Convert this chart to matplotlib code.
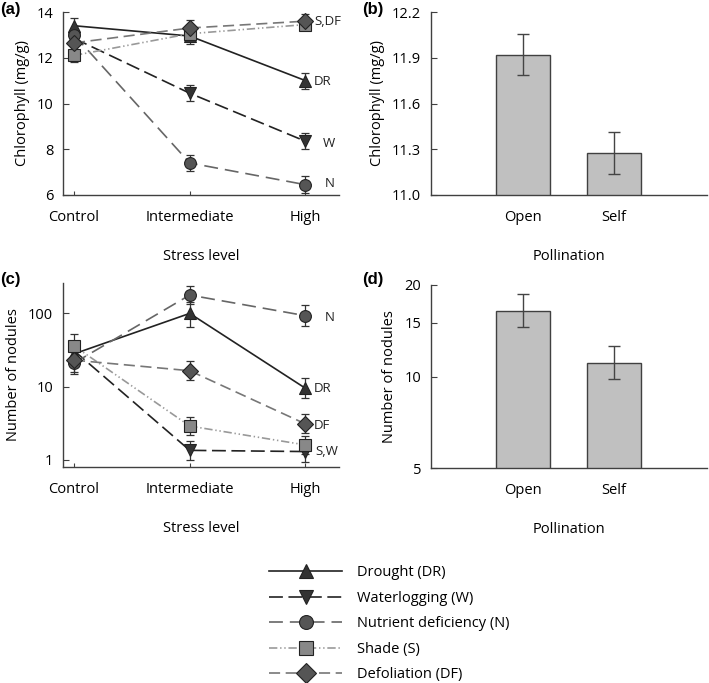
import matplotlib
matplotlib.use("Agg")
import matplotlib.pyplot as plt
from matplotlib.lines import Line2D
import numpy as np

plt.rcParams['font.family'] = ['Open Sans', 'DejaVu Sans']
plt.rcParams['lines.scale_dashes'] = False

# categories
levels = ["Control", "Intermediate", "High"]
pollination = ["Open", "Self"]

# (a) chlorophyll vs stress level (mg/g)
chl_dr = [13.4, 12.95, 11.0]
chl_dr_err = [0.35, 0.35, 0.35]
chl_w = [12.85, 10.45, 8.35]
chl_w_err = [0.3, 0.35, 0.35]
chl_n = [13.0, 7.4, 6.45]
chl_n_err = [0.3, 0.35, 0.38]
chl_s = [12.1, 13.05, 13.45]
chl_s_err = [0.3, 0.3, 0.25]
chl_df = [12.65, 13.3, 13.6]
chl_df_err = [0.3, 0.35, 0.3]

# (b) chlorophyll vs pollination
chl_poll = [11.92, 11.275]
chl_poll_err = [0.135, 0.135]

# (c) number of nodules vs stress level (value, lower, upper)
nod_dr = [28, 100, 9.5]
nod_dr_lo = [20, 66, 6.9]
nod_dr_hi = [40, 144, 13]
nod_w = [31, 1.35, 1.3]
nod_w_lo = [22, 1.0, 0.95]
nod_w_hi = [42, 1.8, 1.75]
nod_n = [21, 178, 93]
nod_n_lo = [15, 135, 67]
nod_n_hi = [30, 240, 130]
nod_s = [36, 2.9, 1.6]
nod_s_lo = [25, 2.2, 1.2]
nod_s_hi = [52, 3.9, 2.1]
nod_df = [23, 16.5, 3.1]
nod_df_lo = [16, 12.3, 2.3]
nod_df_hi = [32, 22.5, 4.2]

# (d) number of nodules vs pollination
nod_poll = [16.4, 11.1]
nod_poll_lo = [14.5, 9.8]
nod_poll_hi = [18.7, 12.6]

# series styles: label, line colour, dashes, marker, marker colour
styles = {
    "DR": ("Drought (DR)", "#222222", None, "^", "#333333"),
    "W": ("Waterlogging (W)", "#222222", (10, 4), "v", "#333333"),
    "N": ("Nutrient deficiency (N)", "#666666", (10, 5), "o", "#555555"),
    "S": ("Shade (S)", "#999999", (6, 2, 1, 2, 1, 2), "s", "#888888"),
    "DF": ("Defoliation (DF)", "#777777", (8, 4), "D", "#555555"),
}
order = ["DR", "W", "N", "S", "DF"]

fs = 10.5
spine_c = "#404040"


def style_axes(ax):
    for s in ["top", "right"]:
        ax.spines[s].set_visible(False)
    for s in ["left", "bottom"]:
        ax.spines[s].set_color(spine_c)
        ax.spines[s].set_linewidth(1.0)
    ax.tick_params(axis="y", direction="in", length=4, color=spine_c, labelsize=fs, pad=7)
    ax.tick_params(axis="x", direction="in", length=3, color=spine_c, labelsize=fs, pad=11)
    ax.minorticks_off()


def draw_series(ax, key, x, y, yerr):
    label, lc, dashes, mk, mc = styles[key]
    ax.errorbar(x, y, yerr=yerr, fmt="none", ecolor="#333333", elinewidth=0.9,
                capsize=3, capthick=0.9, zorder=2)
    line, = ax.plot(x, y, color=lc, lw=1.2, marker=mk, markersize=8.5,
                    markerfacecolor=mc, markeredgecolor="#222222", markeredgewidth=0.8,
                    label=label, zorder=3)
    if dashes is not None:
        line.set_dashes(dashes)
    return line


fig = plt.figure(figsize=(7.09, 6.83), dpi=100)
W, H = 709.0, 683.0


def add_ax(left, top, right, bottom):
    return fig.add_axes([left / W, 1 - bottom / H, (right - left) / W, (bottom - top) / H])


x = np.arange(len(levels))

# ----- (a)
ax_a = add_ax(63, 12, 339, 195)
draw_series(ax_a, "DR", x, chl_dr, chl_dr_err)
draw_series(ax_a, "W", x, chl_w, chl_w_err)
draw_series(ax_a, "N", x, chl_n, chl_n_err)
draw_series(ax_a, "S", x, chl_s, chl_s_err)
draw_series(ax_a, "DF", x, chl_df, chl_df_err)
ax_a.set_xlim(-0.095, 2.29)
ax_a.set_ylim(6, 14)
ax_a.set_yticks([6, 8, 10, 12, 14])
ax_a.set_xticks(x)
ax_a.set_xticklabels(levels)
ax_a.set_ylabel("Chlorophyll (mg/g)", fontsize=fs, labelpad=5)
ax_a.set_xlabel("Stress level", fontsize=fs, labelpad=17)
style_axes(ax_a)
for txt, yv, xv in [("S,DF", 13.6, 2.08), ("DR", 10.95, 2.07), ("W", 8.27, 2.15), ("N", 6.5, 2.17)]:
    ax_a.text(xv, yv, txt, fontsize=fs - 1, va="center", ha="left", color="#222222")

# ----- (b)
xp = np.arange(len(pollination))
ax_b = add_ax(431, 12, 707, 195)
ax_b.bar(xp, chl_poll, width=0.6, color="#c0c0c0", edgecolor=spine_c, linewidth=1.0,
         yerr=chl_poll_err, error_kw=dict(ecolor="#444444", elinewidth=1.0, capsize=4, capthick=1.0))
ax_b.set_xlim(-1.01, 2.02)
ax_b.set_ylim(11.0, 12.2)
ax_b.set_yticks([11.0, 11.3, 11.6, 11.9, 12.2])
ax_b.set_yticklabels(["11.0", "11.3", "11.6", "11.9", "12.2"])
ax_b.set_xticks(xp)
ax_b.set_xticklabels(pollination)
ax_b.set_ylabel("Chlorophyll (mg/g)", fontsize=fs, labelpad=5)
ax_b.set_xlabel("Pollination", fontsize=fs, labelpad=17)
style_axes(ax_b)
ax_b.tick_params(axis="x", length=0)

# ----- (c)
ax_c = add_ax(63, 283, 339, 467)
ax_c.set_yscale("log")
for key, y, lo, hi in [("DR", nod_dr, nod_dr_lo, nod_dr_hi),
                       ("W", nod_w, nod_w_lo, nod_w_hi),
                       ("N", nod_n, nod_n_lo, nod_n_hi),
                       ("S", nod_s, nod_s_lo, nod_s_hi),
                       ("DF", nod_df, nod_df_lo, nod_df_hi)]:
    y = np.array(y)
    err = [y - np.array(lo), np.array(hi) - y]
    draw_series(ax_c, key, x, y, err)
ax_c.set_xlim(-0.095, 2.29)
ax_c.set_ylim(0.8, 260)
ax_c.set_yticks([1, 10, 100])
ax_c.set_yticklabels(["1", "10", "100"])
ax_c.set_xticks(x)
ax_c.set_xticklabels(levels)
ax_c.set_ylabel("Number of nodules", fontsize=fs, labelpad=5)
ax_c.set_xlabel("Stress level", fontsize=fs, labelpad=17)
style_axes(ax_c)
for txt, yv, xv in [("N", 89, 2.17), ("DR", 9.5, 2.07), ("DF", 2.95, 2.07), ("S,W", 1.3, 2.09)]:
    ax_c.text(xv, yv, txt, fontsize=fs - 1, va="center", ha="left", color="#222222")

# ----- (d)
ax_d = add_ax(431, 285, 707, 468)
ax_d.set_yscale("log")
yd = np.array(nod_poll)
ax_d.bar(xp, yd, width=0.6, color="#c0c0c0", edgecolor=spine_c, linewidth=1.0,
         yerr=[yd - np.array(nod_poll_lo), np.array(nod_poll_hi) - yd],
         error_kw=dict(ecolor="#444444", elinewidth=1.0, capsize=4, capthick=1.0))
ax_d.set_xlim(-1.01, 2.02)
ax_d.set_ylim(5, 20)
ax_d.set_yticks([5, 10, 15, 20])
ax_d.set_yticklabels(["5", "10", "15", "20"])
ax_d.set_xticks(xp)
ax_d.set_xticklabels(pollination)
ax_d.set_ylabel("Number of nodules", fontsize=fs, labelpad=5)
ax_d.set_xlabel("Pollination", fontsize=fs, labelpad=17)
style_axes(ax_d)
ax_d.tick_params(axis="x", length=0)

# panel letters
for lbl, px, py in [("(a)", 0, 2), ("(b)", 362, 2), ("(c)", 0, 272), ("(d)", 362, 272)]:
    fig.text(px / W, 1 - py / H, lbl, fontsize=12, fontweight="bold",
             family="Liberation Sans", va="top", ha="left")

# legend
handles = []
for key in order:
    label, lc, dashes, mk, mc = styles[key]
    h = Line2D([], [], color=lc, lw=1.2, marker=mk, markersize=10,
               markerfacecolor=mc, markeredgecolor="#222222", markeredgewidth=0.8)
    if dashes is not None:
        h.set_dashes(dashes)
    handles.append(h)
fig.legend(handles, [styles[k][0] for k in order], loc="upper left",
           bbox_to_anchor=(262 / W, 1 - 558 / H), frameon=False, fontsize=fs,
           handlelength=5, handletextpad=1.0, labelspacing=0.72, borderpad=0)

fig.savefig("out.png", dpi=100)
